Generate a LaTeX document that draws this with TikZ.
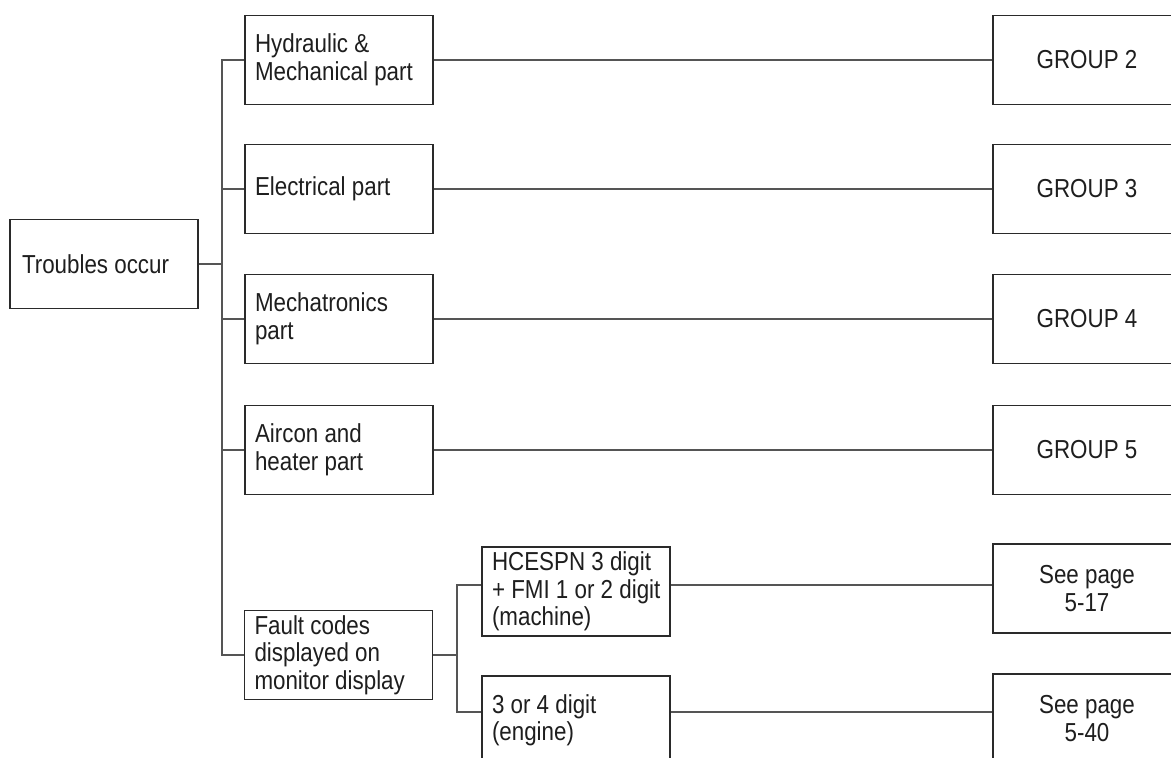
\documentclass[tikz,border=0pt]{standalone}
\usepackage{fontspec}
\setmainfont{Liberation Sans}[FakeStretch=0.86]
\definecolor{boxline}{HTML}{2A2A2A}
\definecolor{conline}{HTML}{555555}
\definecolor{txt}{HTML}{1E1E1E}
\begin{document}
\begin{tikzpicture}[x=1pt,y=-1pt,
  box/.style={draw=boxline,line width=1.6pt,minimum height=89pt,inner xsep=10pt,inner ysep=0pt,
    text width=168pt,align=flush left,text=txt,font=\fontsize{26}{27.5}\selectfont},
  endbox/.style={box,align=flush center},
  con/.style={draw=conline,line width=1.2pt}]
\clip (0,0) rectangle (1171,758);
\fill[white] (0,0) rectangle (1171,758);
% left column
\node[box,inner xsep=12pt,text width=164pt] (trouble) at (104,264) {Troubles occur};
\node[box] (hyd)   at (339,60)    {Hydraulic \&\\Mechanical part};
\node[box] (elec)  at (339,189)   {Electrical part};
\node[box] (mech)  at (339,319)   {Mechatronics\\part};
\node[box] (air)   at (339,450)   {Aircon and\\heater part};
\node[box] (fault) at (338.5,655) {Fault codes\\displayed on\\monitor display};
% second level of fault branch
\node[box] (hce) at (576,591.5) {\mbox{HCESPN 3 digit}\\\mbox{+ FMI 1 or 2 digit}\\\mbox{(machine)}};
\node[box] (eng) at (576,720.5) {3 or 4 digit\\(engine)};
% right column
\node[endbox] (g2)  at (1087,60)    {GROUP 2};
\node[endbox] (g3)  at (1087,189)   {GROUP 3};
\node[endbox] (g4)  at (1087,319)   {GROUP 4};
\node[endbox] (g5)  at (1087,450)   {GROUP 5};
\node[endbox] (p17) at (1087,588.5) {See page\\5-17};
\node[endbox] (p40) at (1087,718.5) {See page\\5-40};
% junction coordinates
\coordinate (j1) at (222,264);
\coordinate (j2) at (457,655);
\coordinate (c1) at (457,585);
\coordinate (c2) at (457,712);
% connectors
\draw[con] (trouble.east) -- (j1);
\draw[con] (hyd.west) -| (j1) |- (fault.west);
\draw[con] (elec.west) -- (elec.west -| j1);
\draw[con] (mech.west) -- (mech.west -| j1);
\draw[con] (air.west) -- (air.west -| j1);
\draw[con] (hyd.east) -- (g2.west);
\draw[con] (elec.east) -- (g3.west);
\draw[con] (mech.east) -- (g4.west);
\draw[con] (air.east) -- (g5.west);
\draw[con] (fault.east) -- (j2);
\draw[con] (hce.west |- c1) -- (c1) -- (c2) -- (eng.west |- c2);
\draw[con] (hce.east |- c1) -- (p17.west |- c1);
\draw[con] (eng.east |- c2) -- (p40.west |- c2);
\end{tikzpicture}
\end{document}
